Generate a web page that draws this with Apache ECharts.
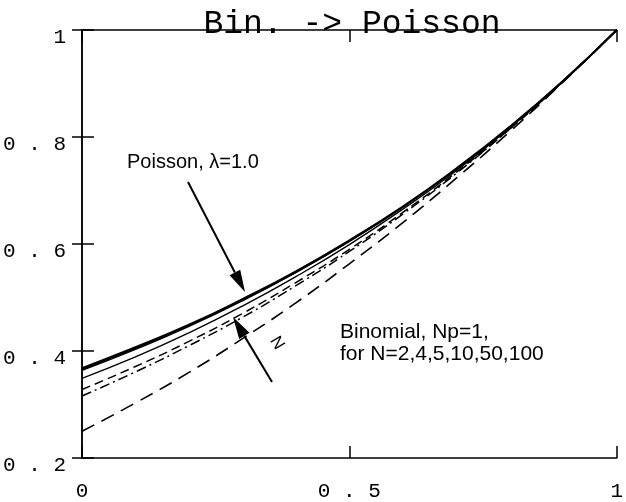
<!DOCTYPE html>
<html>
<head>
<meta charset="utf-8">
<script src="https://cdn.jsdelivr.net/npm/echarts@6/dist/echarts.min.js"></script>
<style>
  html, body { margin: 0; padding: 0; background: #fff; }
  #chart { width: 626px; height: 502px; }
</style>
</head>
<body>
<div id="chart"></div>
<script>
// x values at which the curves were read
const xs = [0, 0.1, 0.2, 0.3, 0.4, 0.5, 0.6, 0.7, 0.8, 0.9, 1.0]

// values
const poisson = [0.368, 0.407, 0.449, 0.497, 0.549, 0.607, 0.670, 0.741, 0.819, 0.905, 1.0]
const bin100 = [0.366, 0.405, 0.448, 0.495, 0.547, 0.605, 0.669, 0.740, 0.819, 0.905, 1.0]
const bin50 = [0.364, 0.403, 0.446, 0.494, 0.547, 0.605, 0.669, 0.740, 0.818, 0.905, 1.0]
const bin10 = [0.349, 0.389, 0.434, 0.484, 0.539, 0.599, 0.665, 0.737, 0.817, 0.904, 1.0]
const bin5 = [0.328, 0.371, 0.418, 0.470, 0.528, 0.590, 0.659, 0.734, 0.815, 0.904, 1.0]
const bin4 = [0.316, 0.361, 0.410, 0.463, 0.522, 0.586, 0.656, 0.732, 0.815, 0.904, 1.0]
const bin2 = [0.250, 0.303, 0.360, 0.423, 0.490, 0.563, 0.640, 0.723, 0.810, 0.903, 1.0]

// tick labels
const xTickLabels = { 0: '0', 0.5: '0 . 5', 1: '1' }
const yTickLabels = { 0.2: '0 . 2', 0.4: '0 . 4', 0.6: '0 . 6', 0.8: '0 . 8', 1: '1' }

const mono = 'Liberation Mono'
const sans = 'Liberation Sans'

function pairs(ys) {
  return xs.map((x, i) => [x, ys[i]])
}

function curve(name, ys, width, dash) {
  return {
    name: name,
    type: 'line',
    data: pairs(ys),
    smooth: true,
    symbol: 'none',
    silent: true,
    lineStyle: { color: '#000', width: width, type: dash || 'solid' },
  }
}

// arrow drawn as a line plus a filled head
function arrow(x1, y1, x2, y2) {
  const ang = Math.atan2(y2 - y1, x2 - x1)
  const len = 22
  const half = 6
  const bx = x2 - len * Math.cos(ang)
  const by = y2 - len * Math.sin(ang)
  const nx = -Math.sin(ang) * half
  const ny = Math.cos(ang) * half
  return [
    {
      type: 'line',
      shape: { x1: x1, y1: y1, x2: bx, y2: by },
      style: { stroke: '#000', lineWidth: 2 },
    },
    {
      type: 'polygon',
      shape: { points: [[x2, y2], [bx + nx, by + ny], [bx - nx, by - ny]] },
      style: { fill: '#000' },
    },
  ]
}

const axisLineStyle = { color: '#000', width: 1.5 }

const option = {
  animation: false,
  backgroundColor: '#fff',
  grid: { left: 80, right: 4, top: 30, bottom: 43 },
  xAxis: [
    {
      type: 'value',
      min: 0,
      max: 1,
      interval: 0.5,
      position: 'bottom',
      axisLine: { show: true, lineStyle: axisLineStyle },
      axisTick: { show: true, inside: true, length: 12, lineStyle: { color: '#000', width: 1.5 } },
      axisLabel: {
        margin: 23,
        fontFamily: mono,
        fontSize: 21,
        color: '#000',
        formatter: (v) => xTickLabels[v] !== undefined ? xTickLabels[v] : '',
      },
      splitLine: { show: false },
    },
    {
      type: 'value',
      min: 0,
      max: 1,
      interval: 0.5,
      position: 'top',
      axisLine: { show: true, lineStyle: axisLineStyle },
      axisTick: { show: true, inside: true, length: 12, lineStyle: { color: '#000', width: 1.5 } },
      axisLabel: { show: false },
      splitLine: { show: false },
    },
  ],
  yAxis: [
    {
      type: 'value',
      min: 0.2,
      max: 1,
      interval: 0.2,
      position: 'left',
      axisLine: { show: true, lineStyle: axisLineStyle },
      axisTick: { show: true, inside: true, length: 12, lineStyle: { color: '#000', width: 1.5 } },
      axisLabel: {
        margin: 16,
        verticalAlign: 'top',
        lineHeight: 14,
        fontFamily: mono,
        fontSize: 21,
        color: '#000',
        formatter: (v) => yTickLabels[Math.round(v * 10) / 10] || '',
      },
      splitLine: { show: false },
    },
    {
      type: 'value',
      min: 0.2,
      max: 1,
      interval: 0.2,
      position: 'right',
      axisLine: { show: true, lineStyle: axisLineStyle },
      axisTick: { show: true, inside: true, length: 10, lineStyle: { color: '#000', width: 1.5 } },
      axisLabel: { show: false },
      splitLine: { show: false },
    },
  ],
  series: [
    curve('N=2', bin2, 1.6, [14, 8]),
    curve('N=4', bin4, 1.5, [10, 4, 2, 4]),
    curve('N=5', bin5, 1.5, [9, 5]),
    curve('N=10', bin10, 1.4),
    curve('N=50', bin50, 1.5),
    curve('N=100', bin100, 1.5),
    curve('Poisson', poisson, 2),
  ],
  graphic: [
    {
      type: 'text',
      x: 352,
      y: 24,
      style: {
        text: 'Bin. -> Poisson',
        fontFamily: mono,
        fontSize: 33,
        fill: '#000',
        align: 'center',
        verticalAlign: 'middle',
      },
    },
    {
      type: 'text',
      x: 127,
      y: 162,
      style: {
        text: 'Poisson, λ=1.0',
        fontFamily: sans,
        fontSize: 20,
        fill: '#000',
        verticalAlign: 'middle',
      },
    },
    {
      type: 'text',
      x: 340,
      y: 332,
      style: {
        text: 'Binomial, Np=1,',
        fontFamily: sans,
        fontSize: 21,
        fill: '#000',
        verticalAlign: 'middle',
      },
    },
    {
      type: 'text',
      x: 340,
      y: 354,
      style: {
        text: 'for N=2,4,5,10,50,100',
        fontFamily: sans,
        fontSize: 21,
        fill: '#000',
        verticalAlign: 'middle',
      },
    },
    {
      type: 'text',
      x: 277,
      y: 343,
      rotation: -1.03,
      originX: 0,
      originY: 0,
      style: {
        text: 'N',
        fontFamily: sans,
        fontSize: 17,
        fill: '#000',
        align: 'center',
        verticalAlign: 'middle',
      },
    },
    ...arrow(188, 182, 245, 292),
    ...arrow(272, 382, 233, 317),
  ],
}

const myChart = echarts.init(document.getElementById('chart'), null, { renderer: 'canvas' })
myChart.setOption(option)
</script>
</body>
</html>
